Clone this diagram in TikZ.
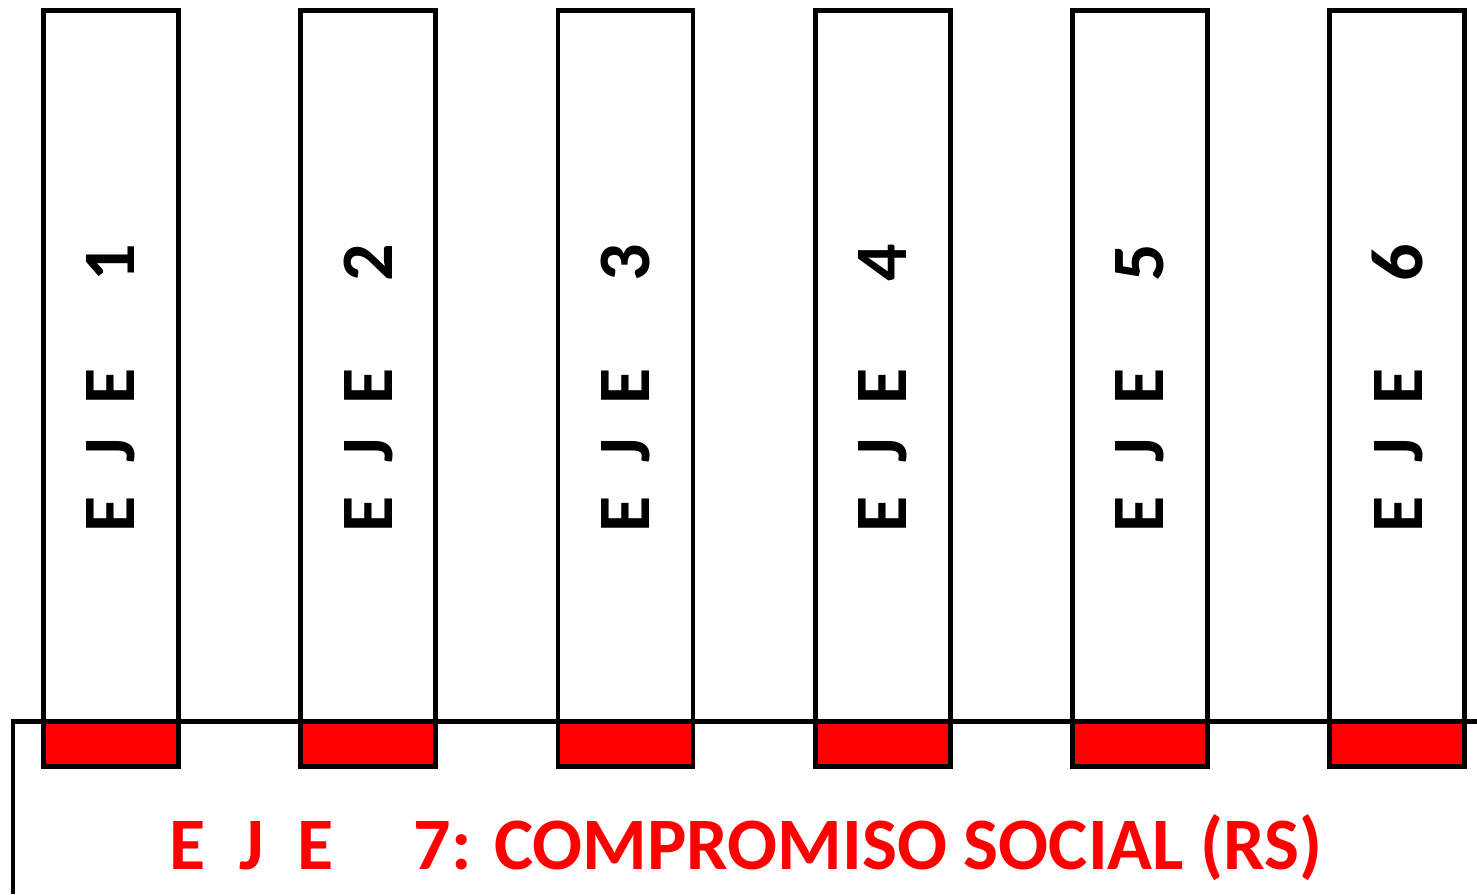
\documentclass[tikz,border=0pt]{standalone}
\usepackage{fontspec}
\setmainfont{Carlito}
\usetikzlibrary{positioning}

\begin{document}
\begin{tikzpicture}[x=0.5pt, y=-0.5pt, node distance = 128.6pt, line width = 2.4pt]
\tikzstyle{eje}=[draw=black, rectangle, minimum width=67.5pt, minimum height=378pt, inner sep=0pt]
\tikzstyle{base}=[draw=black, fill=red, rectangle, minimum width=67.5pt, minimum height=22.5pt, inner sep=0pt, anchor=south]
\tikzstyle{ejetext}=[font=\fontsize{37}{40}\selectfont\bfseries, rotate=90, inner sep=0pt]

\useasboundingbox (0,0) rectangle (1477,894);

\node[eje]	(e1) at (111,388.5)	{};
\node[eje]	(e2) [right of=e1]	{};
\node[eje]	(e3) [right of=e2]	{};
\node[eje]	(e4) [right of=e3]	{};
\node[eje]	(e5) [right of=e4]	{};
\node[eje]	(e6) [right of=e5]	{};

\node[base]	(b1) at (e1.south)	{};
\node[base]	(b2) at (e2.south)	{};
\node[base]	(b3) at (e3.south)	{};
\node[base]	(b4) at (e4.south)	{};
\node[base]	(b5) at (e5.south)	{};
\node[base]	(b6) at (e6.south)	{};

\node[ejetext]	(t1) at (e1)	{E\hspace{17pt}J\hspace{17pt}E\hspace{43pt}1};
\node[ejetext]	(t2) at (e2)	{E\hspace{17pt}J\hspace{17pt}E\hspace{43pt}2};
\node[ejetext]	(t3) at (e3)	{E\hspace{17pt}J\hspace{17pt}E\hspace{43pt}3};
\node[ejetext]	(t4) at (e4)	{E\hspace{17pt}J\hspace{17pt}E\hspace{43pt}4};
\node[ejetext]	(t5) at (e5)	{E\hspace{17pt}J\hspace{17pt}E\hspace{43pt}5};
\node[ejetext]	(t6) at (e6)	{E\hspace{17pt}J\hspace{17pt}E\hspace{43pt}6};

\coordinate (rsright) at (1477,721.5);
\coordinate (rscorner) at (13,721.5);
\coordinate (rsbottom) at (13,894);
\draw (rsright) -- (rscorner) -- (rsbottom);

\node[font=\fontsize{37}{40}\selectfont\bfseries, text=red, anchor=base, inner sep=0pt] (rs) at (746,869)
	{E\hspace{17pt}J\hspace{17pt}E\hspace{40pt}7: COMPROMISO SOCIAL (RS)};
\end{tikzpicture}
\end{document}
